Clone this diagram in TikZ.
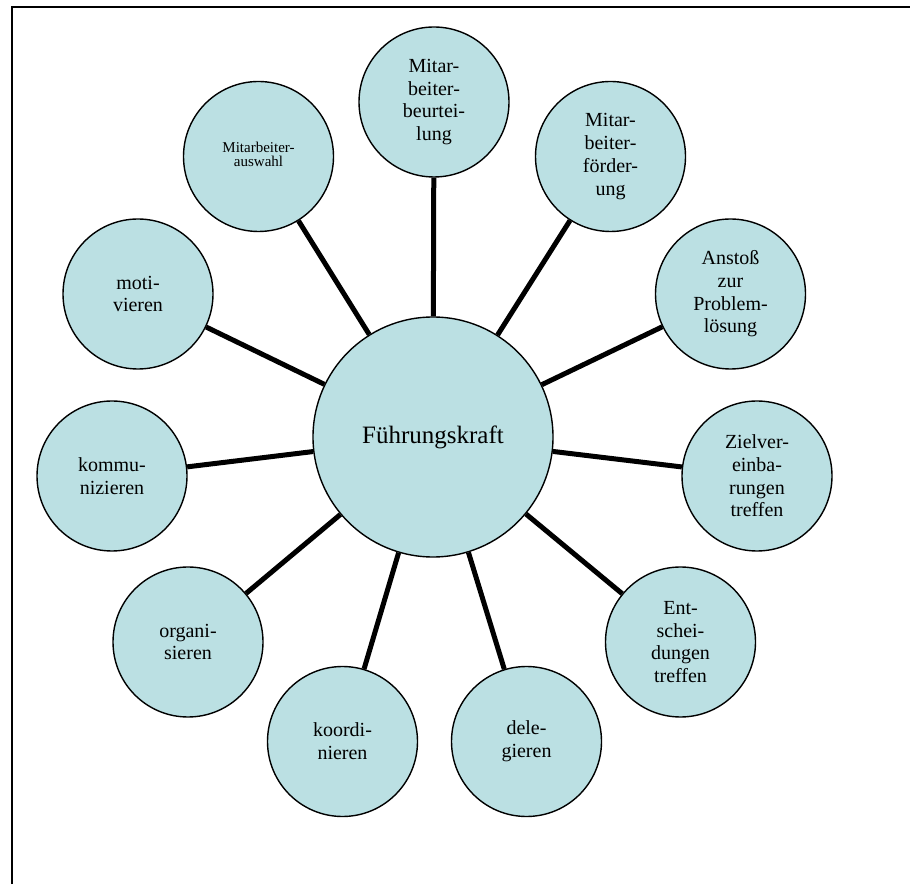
\documentclass[tikz,border=0pt]{standalone}
\usepackage{fontspec}
\setmainfont{Liberation Serif}
\usetikzlibrary{backgrounds}
\definecolor{bubble}{RGB}{187,224,227}
\tikzset{
  sat/.style={circle, draw=black, line width=1.4pt, fill=bubble, minimum size=150pt, inner sep=0pt, align=center, font=\fontsize{20}{22.7}\selectfont, text=black},
  hub/.style={circle, draw=black, line width=1.4pt, fill=bubble, minimum size=240pt, inner sep=0pt, align=center, font=\fontsize{25}{28}\selectfont, text=black},
  spoke/.style={line width=5pt, black},
  frame/.style={line width=1.8pt, black}
}
\begin{document}
\begin{tikzpicture}[x=1pt,y=1pt]
\useasboundingbox (0,0) rectangle (910,884);
\draw[frame] (12,0) -- (12,877) -- (910,877);
\node[hub] (fk) at (433,447) {\raisebox{5pt}{Führungskraft}};
\node[sat] (beur) at (434,782) {Mitar-\\beiter-\\beurtei-\\lung};
\node[sat] (foerd) at (610.5,727.5) {Mitar-\\beiter-\\förder-\\ung};
\node[sat] (anst) at (730.5,590) {Anstoß\\zur\\Problem-\\lösung};
\node[sat] (ziel) at (757,408) {Zielver-\\einba-\\rungen\\treffen};
\node[sat] (ent) at (680.5,242) {Ent-\\schei-\\dungen\\treffen};
\node[sat] (dele) at (526.5,142.5) {dele-\\gieren};
\node[sat] (koord) at (342.5,142.5) {koordi-\\nieren};
\node[sat] (org) at (188,242) {organi-\\sieren};
\node[sat] (komm) at (112,408) {kommu-\\nizieren};
\node[sat] (moti) at (138,590) {moti-\\vieren};
\node[sat, font=\fontsize{15}{16.5}\selectfont] (ausw) at (258.5,727.5) {\raisebox{4pt}{\shortstack{Mitarbeiter-\\auswahl}}};
\begin{scope}[on background layer]
\foreach \n in {beur,foerd,anst,ziel,ent,dele,koord,org,komm,moti,ausw}
  \draw[spoke] (fk) -- (\n);
\end{scope}
\end{tikzpicture}
\end{document}
